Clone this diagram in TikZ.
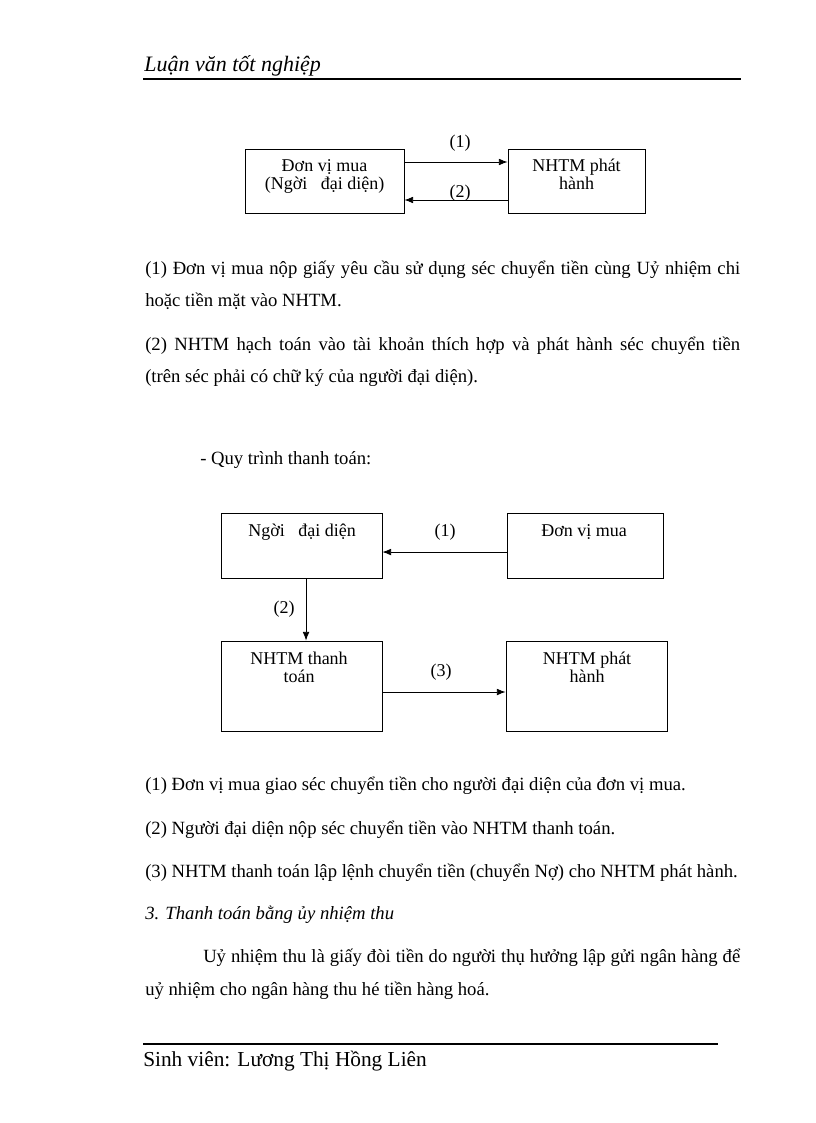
\documentclass[tikz,border=0pt]{standalone}
\usepackage{fontspec}
\setmainfont{Liberation Serif}
\usetikzlibrary{arrows,arrows.meta,positioning}

\begin{document}
\begin{tikzpicture}[x=0.75pt,y=-0.75pt,
  box/.style={draw,line width=0.6pt,inner sep=0pt},
  boxtext/.style={anchor=base,align=center,inner sep=0pt,font=\fontsize{13.5}{13.5}\selectfont},
  lbl/.style={inner sep=0pt,font=\fontsize{13.5}{14}\selectfont},
  txt/.style={anchor=base west,inner sep=0pt,font=\fontsize{14}{16}\selectfont},
  link/.style={-{Latex[length=6.5pt,width=5pt]},line width=0.6pt}]
\useasboundingbox (0,0) rectangle (816,1123);

% header
\node[anchor=base west,inner sep=0pt,font=\fontsize{16.5}{19}\selectfont\itshape] (head) at (144,72) {Luận văn tốt nghiệp};
\draw[line width=0.8pt] (143,79) -- (741,79);

% first diagram
\node[box,minimum width=119.25pt,minimum height=48pt] (dvm) at (324.5,181) {};
\node[box,minimum width=102.75pt,minimum height=48pt] (ph) at (576.5,181) {};
\node[boxtext] (dvmt) at (324.5,190) {Đơn vị mua\\(Ngời\ \ \ đại diện)};
\node[boxtext] (pht) at (576.5,190) {NHTM phát\\hành};
\draw[link] ([yshift=14.25pt]dvm.east) -- ([yshift=14.25pt]ph.west);
\draw[link] ([yshift=-14.25pt]ph.west) -- ([yshift=-14.25pt]dvm.east);
\node[lbl] (a1) at (460,143) {(1)};
\node[lbl] (a2) at (460,193) {(2)};

% text
\node[txt] (p1a) at (145,274) {\makebox[446.25pt][s]{(1) Đơn vị mua nộp giấy yêu cầu sử dụng séc chuyển tiền cùng Uỷ nhiệm chi}};
\node[txt] (p1b) at (145,306) {hoặc tiền mặt vào NHTM.};
\node[txt] (p2a) at (145,350) {\makebox[446.25pt][s]{(2) NHTM hạch toán vào tài khoản thích hợp và phát hành séc chuyển tiền}};
\node[txt] (p2b) at (145,382) {(trên séc phải có chữ ký của người đại diện).};
\node[txt] (qt) at (200,464) {- Quy trình thanh toán:};

% second diagram
\node[box,minimum width=120.75pt,minimum height=48.75pt] (ndd) at (301.5,545.5) {};
\node[box,minimum width=117pt,minimum height=48.75pt] (dvb) at (585,545.5) {};
\node[box,minimum width=120.75pt,minimum height=67.5pt] (ntt) at (301.5,686) {};
\node[box,minimum width=120.75pt,minimum height=67.5pt] (nph) at (586.5,686) {};
\node[boxtext] (nddt) at (302,536) {Ngời\ \ \ đại diện};
\node[boxtext] (dvbt) at (584,536) {Đơn vị mua};
\node[boxtext] (nttt) at (299,682) {NHTM thanh\\toán};
\node[boxtext] (npht) at (587,682) {NHTM phát\\hành};
\draw[link] ([yshift=-4.9pt]dvb.west) -- ([yshift=-4.9pt]ndd.east);
\draw[link] ([xshift=3.4pt]ndd.south) -- ([xshift=3.4pt]ntt.north);
\draw[link] ([yshift=-4.5pt]ntt.east) -- ([yshift=-4.5pt]nph.west);
\node[lbl] (b1) at (445,532) {(1)};
\node[lbl] (b2) at (284,609) {(2)};
\node[lbl] (b3) at (441,672) {(3)};

% text
\node[txt] (q1) at (145,790) {(1) Đơn vị mua giao séc chuyển tiền cho người đại diện của đơn vị mua.};
\node[txt] (q2) at (145,834) {(2) Người đại diện nộp séc chuyển tiền vào NHTM thanh toán.};
\node[txt] (q3) at (145,877) {(3) NHTM thanh toán lập lệnh chuyển tiền (chuyển Nợ) cho NHTM phát hành.};
\node[txt,font=\fontsize{14}{16}\selectfont\itshape] (sec) at (145,919) {3. Thanh toán bằng ủy nhiệm thu};
\node[txt] (u1) at (203,962) {\makebox[402.75pt][s]{Uỷ nhiệm thu là giấy đòi tiền do người thụ hưởng lập gửi ngân hàng để}};
\node[txt] (u2) at (145,995) {uỷ nhiệm cho ngân hàng thu hé tiền hàng hoá.};

% footer
\draw[line width=0.8pt] (143,1044) -- (718,1044);
\node[anchor=base west,inner sep=0pt,font=\fontsize{16}{18}\selectfont] (foot) at (143,1066) {Sinh viên: Lương Thị Hồng Liên};
\end{tikzpicture}
\end{document}
